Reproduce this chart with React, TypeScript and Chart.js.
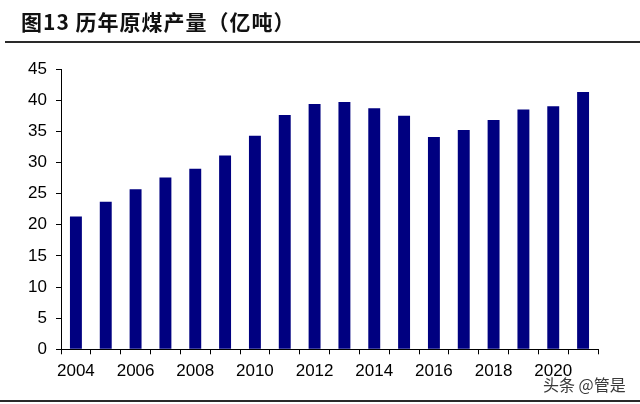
import React, { useEffect, useRef } from "react";
import { Chart, registerables } from "chart.js";

Chart.register(...registerables);

const years = ["2004","2005","2006","2007","2008","2009","2010","2011","2012","2013","2014","2015","2016","2017","2018","2019","2020","2021"];
const output = [21.3, 23.7, 25.7, 27.6, 29.0, 31.1, 34.3, 37.6, 39.4, 39.7, 38.7, 37.5, 34.1, 35.2, 36.8, 38.5, 39.0, 41.3];
const titleText = "图13 历年原煤产量（亿吨）";
const watermark = "头条 @管是";

const decorPlugin = {
  id: "decor",
  beforeDraw(chart: any) {
    const ctx = chart.ctx;
    ctx.save();
    ctx.fillStyle = "#ffffff";
    ctx.fillRect(0, 0, chart.width, chart.height);
    ctx.fillStyle = "#111111";
    ctx.font = "bold 21px 'Noto Sans CJK SC', sans-serif";
    ctx.textBaseline = "middle";
    ctx.textAlign = "left";
    (ctx as any).letterSpacing = "1px";
    ctx.fillText(titleText, 21, 22);
    (ctx as any).letterSpacing = "0px";
    ctx.fillStyle = "#2a2a2a";
    ctx.fillRect(5, 41, chart.width - 5, 2);
    ctx.fillRect(0, 400, chart.width, 2);
    ctx.restore();
  },
  afterDraw(chart: any) {
    const ctx = chart.ctx;
    ctx.save();
    ctx.font = "16px 'Noto Sans CJK SC', sans-serif";
    ctx.textBaseline = "middle";
    ctx.textAlign = "left";
    ctx.lineWidth = 3;
    ctx.strokeStyle = "#ffffff";
    ctx.lineJoin = "round";
    ctx.strokeText(watermark, 543, 385);
    ctx.fillStyle = "#3a3a3a";
    ctx.fillText(watermark, 543, 385);
    ctx.restore();
  },
};

export default function App() {
  const ref = useRef<HTMLCanvasElement | null>(null);
  useEffect(() => {
    if (!ref.current) return;
    const chart = new Chart(ref.current, {
      type: "bar",
      data: {
        labels: years,
        datasets: [
          {
            data: output,
            backgroundColor: "#000080",
            barPercentage: 0.4,
            categoryPercentage: 1,
          },
        ],
      },
      options: {
        animation: false,
        responsive: false,
        maintainAspectRatio: false,
        layout: { padding: { left: 0, right: 42, top: 69, bottom: 24.7 } },
        plugins: { legend: { display: false }, tooltip: { enabled: false }, title: { display: false } },
        scales: {
          x: {
            offset: true,
            grid: { offset: true, drawOnChartArea: false, drawTicks: true, tickLength: 5, color: "#000000", lineWidth: 1 },
            border: { display: true, color: "#000000", width: 1 },
            ticks: {
              autoSkip: false,
              maxRotation: 0,
              minRotation: 0,
              padding: 7,
              color: "#000000",
              font: { family: "'Liberation Sans', Arial, sans-serif", size: 17 },
              callback: (_v: any, i: number) => (i % 2 === 0 ? years[i] : ""),
            },
            afterFit: (scale: any) => { scale.height = 30; },
          },
          y: {
            min: 0,
            max: 45,
            grid: { drawOnChartArea: false, drawTicks: true, tickLength: 5, color: "#000000", lineWidth: 1 },
            border: { display: true, color: "#000000", width: 1 },
            ticks: {
              stepSize: 5,
              padding: 9,
              color: "#000000",
              font: { family: "'Liberation Sans', Arial, sans-serif", size: 17 },
            },
            afterFit: (scale: any) => { scale.width = 61; },
          },
        },
      },
      plugins: [decorPlugin],
    });
    return () => chart.destroy();
  }, []);
  return (
    <div style={{ position: "fixed", left: 0, top: 0, width: 640, height: 404 }}>
      <canvas ref={ref} width={640} height={404} style={{ width: 640, height: 404, display: "block" }} />
    </div>
  );
}
